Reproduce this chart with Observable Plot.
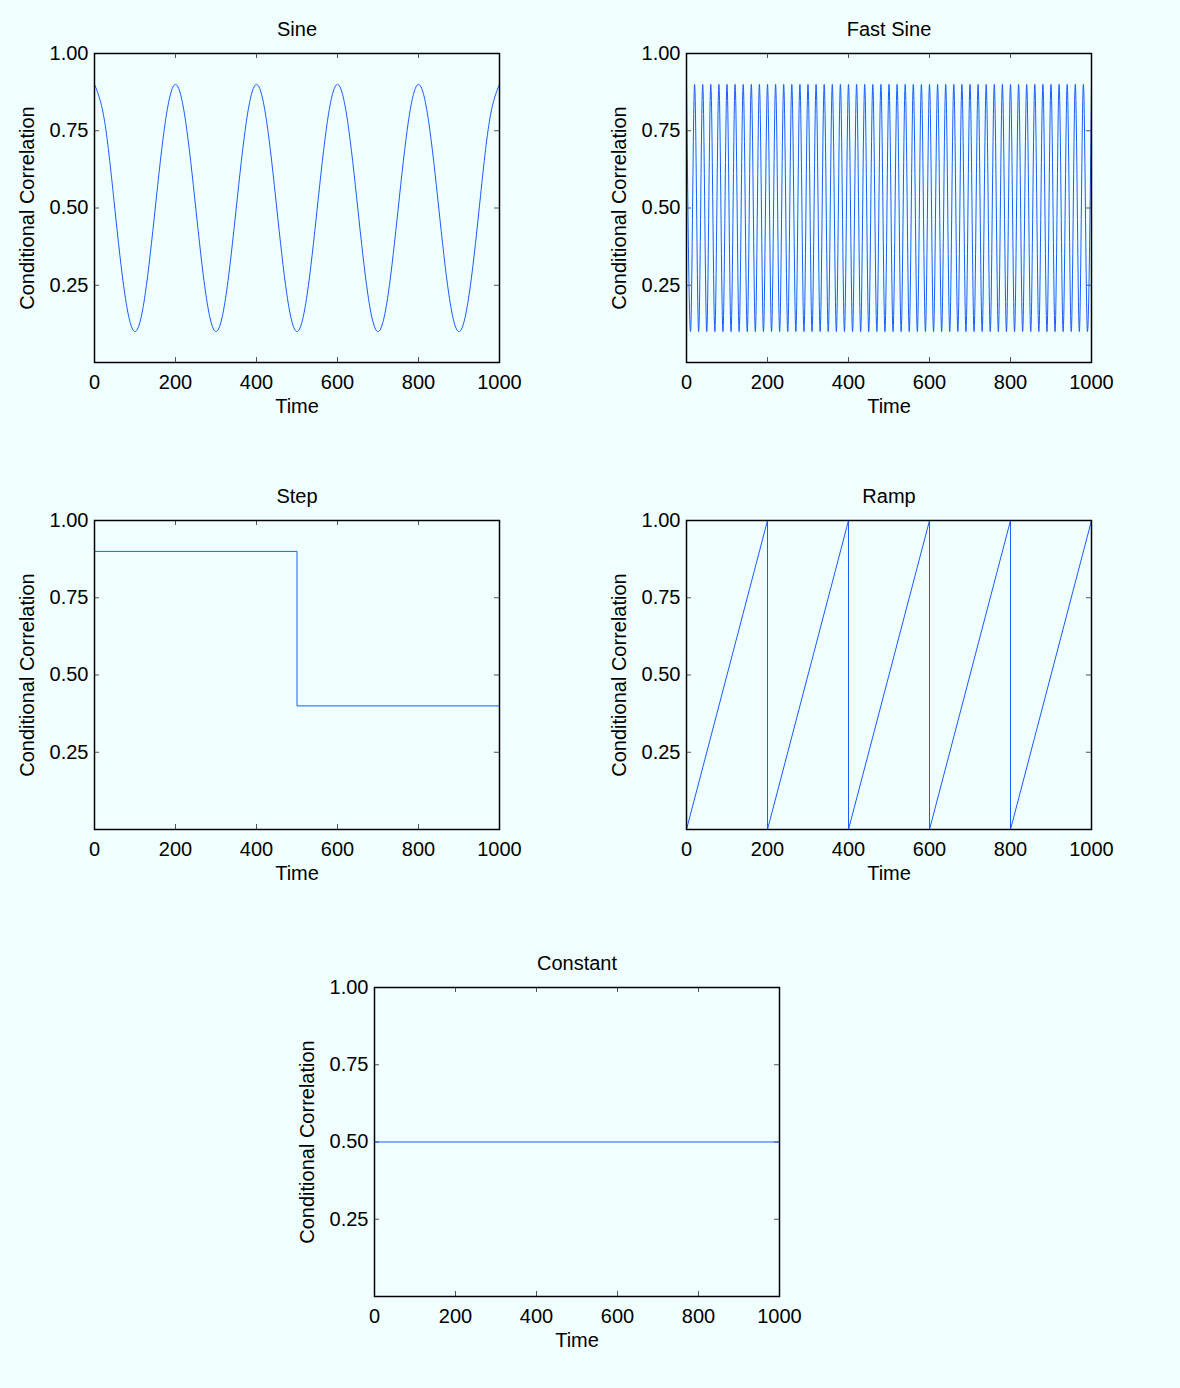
<!DOCTYPE html>
<html>
<head>
<meta charset="utf-8">
<script src="https://cdn.jsdelivr.net/npm/d3@7"></script>
<script src="https://cdn.jsdelivr.net/npm/@observablehq/plot@0.6"></script>
<style>
  html, body { margin: 0; padding: 0; background: #f0ffff; }
  #root { position: relative; width: 1180px; height: 1388px; background: #f0ffff; overflow: hidden; }
  .panel { position: absolute; }
</style>
</head>
<body>
<div id="root"></div>
<script>
// ---- data ----
const xTicks = [0, 200, 400, 600, 800, 1000];
const yTicks = [0.25, 0.5, 0.75, 1.0];

const sineTime = d3.range(0, 1001, 25);
const sineValues = [
  0.9, 0.78, 0.5, 0.22, 0.1, 0.22, 0.5, 0.78,
  0.9, 0.78, 0.5, 0.22, 0.1, 0.22, 0.5, 0.78,
  0.9, 0.78, 0.5, 0.22, 0.1, 0.22, 0.5, 0.78,
  0.9, 0.78, 0.5, 0.22, 0.1, 0.22, 0.5, 0.78,
  0.9, 0.78, 0.5, 0.22, 0.1, 0.22, 0.5, 0.78,
  0.9
];

const fastTime = d3.range(0, 1001, 10);
const fastValues = [
  0.9, 0.1, 0.9, 0.1, 0.9, 0.1, 0.9, 0.1, 0.9, 0.1,
  0.9, 0.1, 0.9, 0.1, 0.9, 0.1, 0.9, 0.1, 0.9, 0.1,
  0.9, 0.1, 0.9, 0.1, 0.9, 0.1, 0.9, 0.1, 0.9, 0.1,
  0.9, 0.1, 0.9, 0.1, 0.9, 0.1, 0.9, 0.1, 0.9, 0.1,
  0.9, 0.1, 0.9, 0.1, 0.9, 0.1, 0.9, 0.1, 0.9, 0.1,
  0.9, 0.1, 0.9, 0.1, 0.9, 0.1, 0.9, 0.1, 0.9, 0.1,
  0.9, 0.1, 0.9, 0.1, 0.9, 0.1, 0.9, 0.1, 0.9, 0.1,
  0.9, 0.1, 0.9, 0.1, 0.9, 0.1, 0.9, 0.1, 0.9, 0.1,
  0.9, 0.1, 0.9, 0.1, 0.9, 0.1, 0.9, 0.1, 0.9, 0.1,
  0.9, 0.1, 0.9, 0.1, 0.9, 0.1, 0.9, 0.1, 0.9, 0.1,
  0.9
];

const stepTime = [0, 500, 500, 1000];
const stepValues = [0.9, 0.9, 0.4, 0.4];

const rampTime = [0, 200, 200, 400, 400, 600, 600, 800, 800, 1000];
const rampValues = [0, 1, 0, 1, 0, 1, 0, 1, 0, 1];

const constTime = [0, 1000];
const constValues = [0.5, 0.5];

const panels = [
  {title: "Sine", time: sineTime, values: sineValues, curve: "natural", left: 0, top: 0},
  {title: "Fast Sine", time: fastTime, values: fastValues, curve: "monotone-x", left: 592, top: 0},
  {title: "Step", time: stepTime, values: stepValues, curve: "linear", left: 0, top: 467},
  {title: "Ramp", time: rampTime, values: rampValues, curve: "linear", left: 592, top: 467},
  {title: "Constant", time: constTime, values: constValues, curve: "linear", left: 280, top: 934}
];

// ---- drawing ----
const FONT = "'Liberation Sans', Arial, Helvetica, sans-serif";
const BLUE = "#1a5cff";
const W = 405, H = 309;
const ML = 94, MT = 53, MR = 40, MB = 70;
const root = document.getElementById("root");

for (const p of panels) {
  const rows = p.time.map((t, i) => ({t, v: p.values[i]}));
  const chart = Plot.plot({
    width: ML + W + MR,
    height: MT + H + MB,
    marginLeft: ML, marginTop: MT, marginRight: MR, marginBottom: MB,
    style: {background: "transparent", overflow: "visible", fontFamily: FONT, fontSize: "20px", color: "#000"},
    x: {domain: [0, 1000]},
    y: {domain: [0, 1]},
    marks: [
      Plot.ruleX(xTicks, {x: d => d, insetTop: H - 5, stroke: "#555", strokeWidth: 1}),
      Plot.ruleX(xTicks, {x: d => d, insetBottom: H - 5, stroke: "#555", strokeWidth: 1}),
      Plot.ruleY(yTicks, {y: d => d, insetRight: W - 5, stroke: "#555", strokeWidth: 1}),
      Plot.ruleY(yTicks, {y: d => d, insetLeft: W - 5, stroke: "#555", strokeWidth: 1}),
      Plot.line(rows, {x: "t", y: "v", stroke: BLUE, strokeWidth: 1, curve: p.curve}),
      Plot.frame({stroke: "#000", strokeWidth: 1.5}),
      Plot.axisX(xTicks, {tickSize: 0, tickPadding: 12, tickFormat: d3.format("d"), label: null, fontSize: 20, fill: "#000"}),
      Plot.axisY(yTicks, {tickSize: 0, tickPadding: 6, tickFormat: d3.format(".2f"), label: null, fontSize: 20, fill: "#000"}),
      Plot.text([p.title], {text: d => d, frameAnchor: "top", dy: -24, lineAnchor: "middle", fontSize: 20, fill: "#000"}),
      Plot.text(["Time"], {text: d => d, frameAnchor: "bottom", dy: 44, lineAnchor: "middle", fontSize: 20, fill: "#000"}),
      Plot.text(["Conditional Correlation"], {text: d => d, frameAnchor: "left", dx: -67, rotate: -90, textAnchor: "middle", lineAnchor: "middle", fontSize: 20, fill: "#000"})
    ]
  });
  chart.classList.add("panel");
  chart.style.left = p.left + "px";
  chart.style.top = p.top + "px";
  chart.style.position = "absolute";
  root.appendChild(chart);
}
</script>
</body>
</html>
